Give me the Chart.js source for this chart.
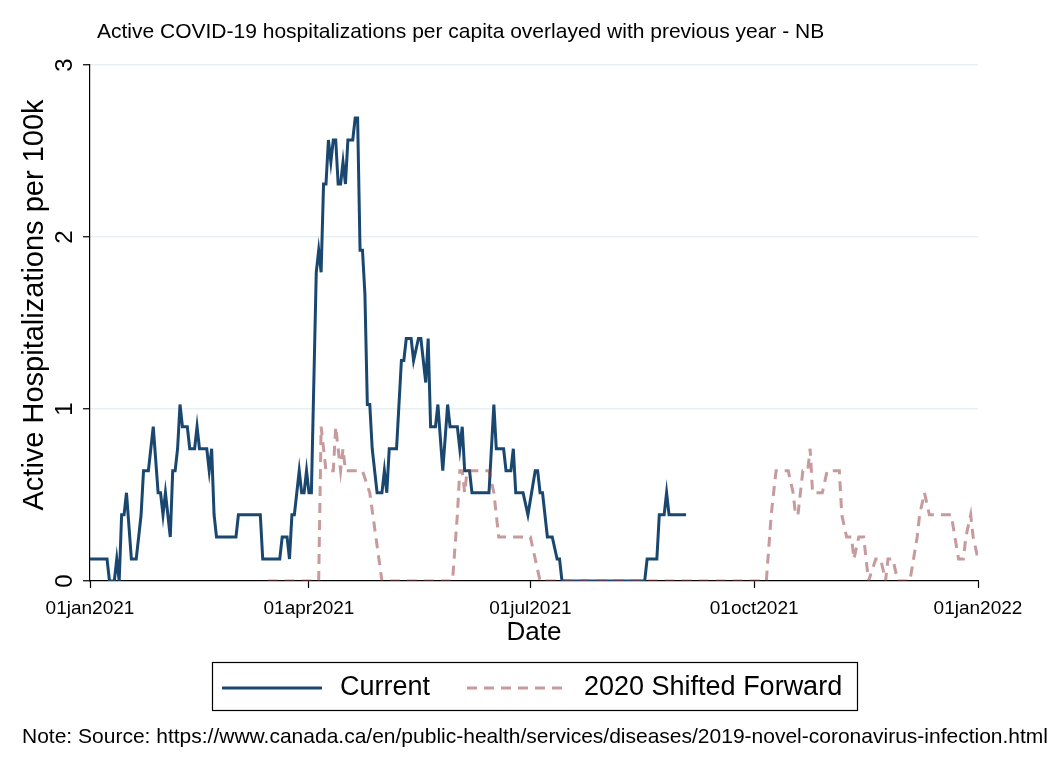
<!DOCTYPE html>
<html>
<head>
<meta charset="utf-8">
<script src="https://cdn.jsdelivr.net/npm/chart.js@4.4.0/dist/chart.umd.min.js"></script>
<style>
  body { margin: 0; background: #fff; }
  #wrap { width: 1056px; height: 768px; }
</style>
</head>
<body>
<div id="wrap"><canvas id="hospChart" width="1056" height="768"></canvas></div>
<script>
// days since 01jan2021 where the curve changes, and the value there (per 100k)
const currentDays = [0, 7, 8, 10, 11, 12, 13, 14, 15, 17, 19, 20, 21, 22, 24, 26, 28, 29, 30, 31, 33, 34, 35, 36, 37, 38, 40, 41, 43, 44, 45, 48, 49, 50, 51, 52, 60, 61, 70, 71, 78, 79, 81, 82, 83, 84, 86, 87, 88, 89, 90, 91, 93, 94, 95, 96, 97, 98, 99, 100, 101, 102, 103, 104, 105, 106, 108, 109, 110, 111, 112, 113, 114, 115, 116, 118, 120, 121, 122, 123, 126, 128, 129, 130, 132, 133, 135, 136, 138, 139, 140, 142, 143, 145, 147, 148, 151, 152, 153, 154, 156, 157, 164, 166, 167, 170, 171, 173, 174, 175, 178, 180, 183, 184, 185, 186, 188, 190, 192, 193, 194, 228, 229, 233, 234, 236, 237, 238, 245];
const currentVals = [0.128, 0.128, 0, 0, 0.128, 0, 0.385, 0.385, 0.513, 0.128, 0.128, 0.256, 0.385, 0.641, 0.641, 0.897, 0.513, 0.513, 0.385, 0.513, 0.256, 0.641, 0.641, 0.769, 1.026, 0.897, 0.897, 0.769, 0.769, 0.897, 0.769, 0.769, 0.641, 0.769, 0.385, 0.256, 0.256, 0.385, 0.385, 0.128, 0.128, 0.256, 0.256, 0.128, 0.385, 0.385, 0.641, 0.513, 0.513, 0.641, 0.513, 0.513, 1.795, 1.923, 1.795, 2.308, 2.308, 2.564, 2.436, 2.564, 2.564, 2.308, 2.308, 2.436, 2.308, 2.564, 2.564, 2.692, 2.692, 1.923, 1.923, 1.667, 1.026, 1.026, 0.769, 0.513, 0.513, 0.641, 0.513, 0.769, 0.769, 1.282, 1.282, 1.41, 1.41, 1.282, 1.41, 1.41, 1.154, 1.41, 0.897, 0.897, 1.026, 0.641, 1.026, 0.897, 0.897, 0.769, 0.897, 0.641, 0.641, 0.513, 0.513, 1.026, 0.769, 0.769, 0.641, 0.641, 0.769, 0.513, 0.513, 0.385, 0.641, 0.641, 0.513, 0.513, 0.256, 0.256, 0.128, 0.128, 0, 0, 0.128, 0.128, 0.385, 0.385, 0.513, 0.385, 0.385];

const prevDays = [73, 94, 95, 96, 97, 100, 101, 102, 103, 104, 105, 112, 115, 120, 149, 151, 152, 153, 154, 155, 163, 164, 166, 168, 181, 183, 185, 278, 280, 282, 287, 289, 290, 291, 292, 293, 295, 296, 297, 301, 303, 308, 309, 311, 313, 314, 316, 318, 319, 320, 323, 325, 327, 328, 330, 332, 337, 340, 341, 343, 345, 354, 357, 359, 360, 362, 363, 365];
const prevVals = [0, 0, 0.897, 0.769, 0.641, 0.641, 0.897, 0.769, 0.641, 0.769, 0.641, 0.641, 0.513, 0, 0, 0.385, 0.641, 0.641, 0.513, 0.641, 0.641, 0.641, 0.513, 0.256, 0.256, 0.128, 0, 0, 0.385, 0.641, 0.641, 0.513, 0.385, 0.385, 0.513, 0.641, 0.641, 0.769, 0.513, 0.513, 0.641, 0.641, 0.385, 0.256, 0.256, 0.128, 0.256, 0.256, 0.128, 0, 0.128, 0.128, 0, 0.128, 0.128, 0, 0, 0.256, 0.385, 0.513, 0.385, 0.385, 0.128, 0.128, 0.256, 0.385, 0.256, 0.128];

const xTickDays = [0, 90, 181, 273, 365];
const xTickLabels = ['01jan2021', '01apr2021', '01jul2021', '01oct2021', '01jan2022'];
const yTicks = [0, 1, 2, 3];

const FONT = '"Liberation Sans", Arial, sans-serif';
const NAVY = '#1a476f';
const ROSE = 'rgba(144,53,59,0.5)';

function toPoints(days, vals) {
    return days.map((d, i) => ({ x: d, y: vals[i] }));
}

// titles, rotated y labels, legend box and note, Stata style
const decor = {
    id: 'decor',
    afterDraw(chart) {
        const ctx = chart.ctx;
        const ys = chart.scales.y;
        ctx.save();
        ctx.fillStyle = '#000';

        ctx.font = '21px ' + FONT;
        ctx.textAlign = 'left';
        ctx.textBaseline = 'middle';
        ctx.fillText('Active COVID-19 hospitalizations per capita overlayed with previous year - NB', 97, 32);

        ctx.font = '24px ' + FONT;
        ctx.textAlign = 'center';
        yTicks.forEach(v => {
            ctx.save();
            ctx.translate(65, ys.getPixelForValue(v));
            ctx.rotate(-Math.PI / 2);
            ctx.fillText(String(v), 0, 0);
            ctx.restore();
        });

        ctx.font = '29px ' + FONT;
        ctx.save();
        ctx.translate(35, 305);
        ctx.rotate(-Math.PI / 2);
        ctx.fillText('Active Hospitalizations per 100k', 0, 0);
        ctx.restore();

        ctx.font = '26px ' + FONT;
        ctx.fillText('Date', 534, 633);

        // legend
        ctx.strokeStyle = '#000';
        ctx.lineWidth = 1.2;
        ctx.strokeRect(212.5, 662.5, 645, 48);
        ctx.lineWidth = 3;
        ctx.strokeStyle = NAVY;
        ctx.beginPath(); ctx.moveTo(222, 688); ctx.lineTo(322, 688); ctx.stroke();
        ctx.strokeStyle = ROSE;
        ctx.setLineDash([10, 7]);
        ctx.beginPath(); ctx.moveTo(467, 688); ctx.lineTo(566, 688); ctx.stroke();
        ctx.setLineDash([]);
        ctx.textAlign = 'left';
        ctx.font = '27px ' + FONT;
        ctx.fillText('Current', 340, 688);
        ctx.fillText('2020 Shifted Forward', 584, 688);

        ctx.font = '21px ' + FONT;
        ctx.fillText('Note: Source: https://www.canada.ca/en/public-health/services/diseases/2019-novel-coronavirus-infection.html', 22, 737);
        ctx.restore();
    }
};

new Chart(document.getElementById('hospChart'), {
    type: 'line',
    data: {
        datasets: [{
            label: 'Current',
            data: toPoints(currentDays, currentVals),
            borderColor: NAVY,
            borderWidth: 3,
            pointRadius: 0,
            tension: 0,
            fill: false,
            order: 1
        }, {
            label: '2020 Shifted Forward',
            data: toPoints(prevDays, prevVals),
            borderColor: ROSE,
            borderWidth: 3,
            borderDash: [10, 7],
            pointRadius: 0,
            tension: 0,
            fill: false,
            order: 0
        }]
    },
    options: {
        responsive: false,
        animation: false,
        devicePixelRatio: 1,
        layout: { padding: { left: 50, right: 78, top: 65, bottom: 147 } },
        plugins: {
            legend: { display: false },
            title: { display: false },
            tooltip: { enabled: false }
        },
        scales: {
            x: {
                type: 'linear',
                min: 0,
                max: 365,
                afterBuildTicks: (s) => { s.ticks = xTickDays.map(v => ({ value: v })); },
                afterFit: (s) => { s.height = 40; },
                ticks: {
                    autoSkip: false,
                    maxRotation: 0,
                    padding: 9,
                    color: '#000',
                    font: { size: 19, family: FONT },
                    callback: (v, i) => xTickLabels[i]
                },
                grid: { drawOnChartArea: false, tickLength: 7, tickColor: '#000', tickWidth: 1.2 },
                border: { color: '#000', width: 1.2 }
            },
            y: {
                min: 0,
                max: 3,
                afterBuildTicks: (s) => { s.ticks = yTicks.map(v => ({ value: v })); },
                afterFit: (s) => { s.width = 40; },
                ticks: { display: false },
                grid: {
                    color: (c) => c.tick && c.tick.value === 0 ? 'rgba(0,0,0,0)' : '#e6eff1',
                    lineWidth: 1.5,
                    tickLength: 7,
                    tickColor: '#000',
                    tickWidth: 1.2
                },
                border: { color: '#000', width: 1.2 }
            }
        }
    },
    plugins: [decor]
});
</script>
</body>
</html>
